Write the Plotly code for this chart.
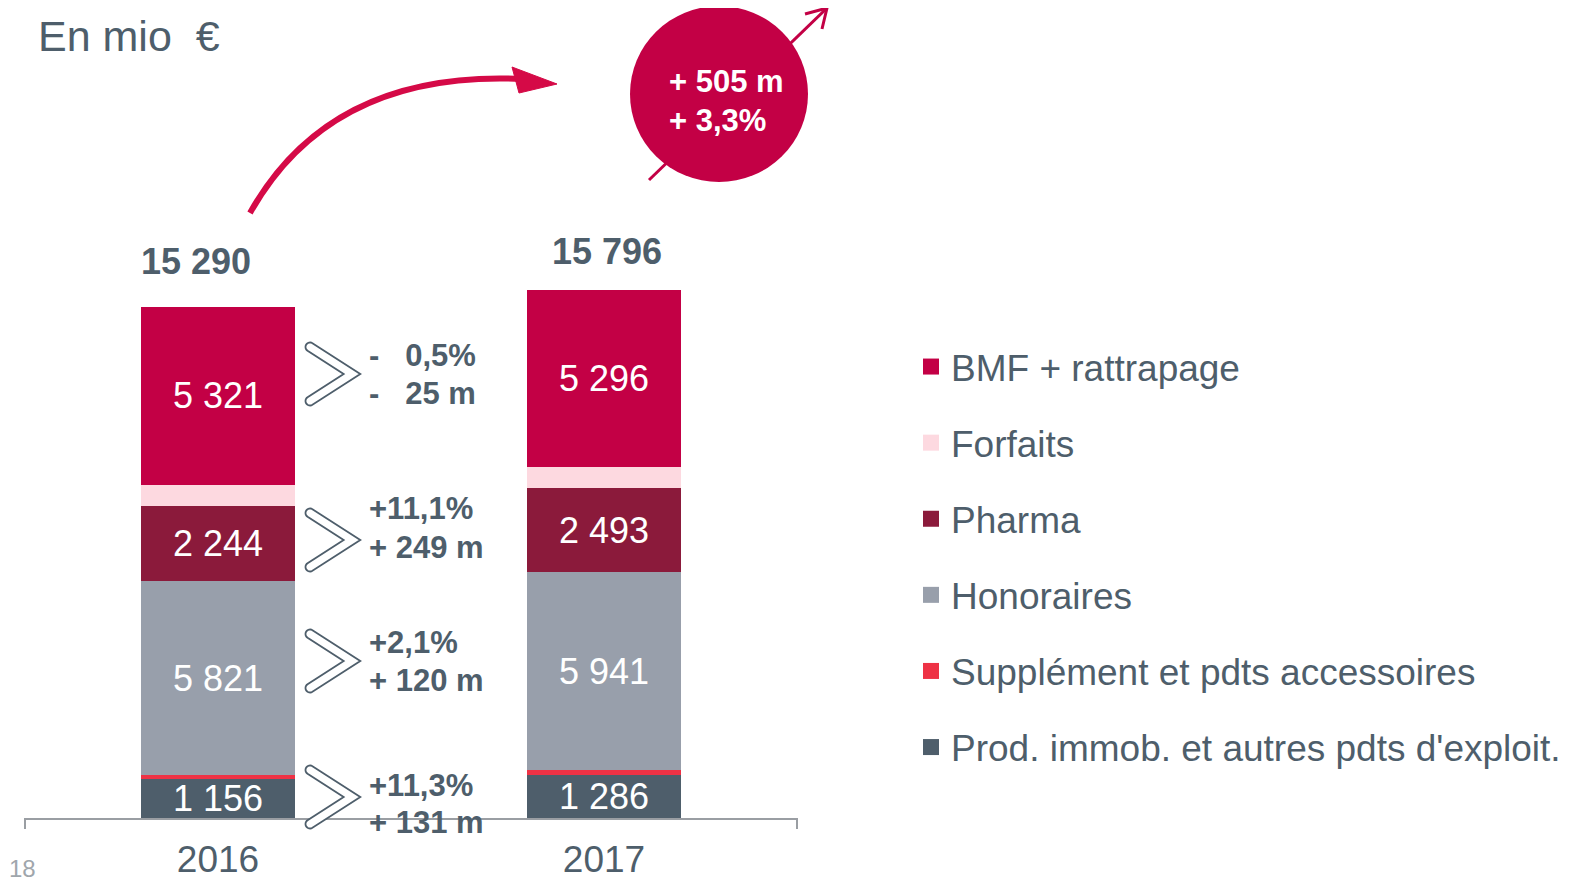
import math
import plotly.graph_objects as go

# ---------------- data ----------------
years = ["2016", "2017"]
series_names = ["Prod. immob. et autres pdts d'exploit.", "Supplément et pdts accessoires",
                "Honoraires", "Pharma", "Forfaits", "BMF + rattrapage"]
prod_immob = [1156, 1286]
supplement = [120, 140]
honoraires = [5821, 5941]
pharma = [2244, 2493]
forfaits = [628, 640]
bmf = [5321, 5296]
series_values = [prod_immob, supplement, honoraires, pharma, forfaits, bmf]
series_colors = ["#4E5E6B", "#EE3245", "#989FAB", "#8B1A3B", "#FDD9E0", "#C30045"]
show_label = [True, False, True, True, False, True]

# evolution 2016 -> 2017 (BMF, Pharma, Honoraires, Prod. immob.)
change_pct = ["-\u00a0\u00a0\u00a00,5%", "+11,1%", "+2,1%", "+11,3%"]
change_abs = ["-\u00a0\u00a0\u00a025 m", "+ 249 m", "+ 120 m", "+ 131 m"]
total_change = ["+ 505 m", "+ 3,3%"]

SLATE = "#4E5E6B"
FONT = "Liberation Sans, Arial, sans-serif"

OFF = 8                      # page body offset
W, H = 1570 - OFF, 882 - OFF
PL, PR, PB = 25, 797, 818    # plot area (page pixels)
UNIT_PER_PX = 29.92
L, R, B = PL - OFF, PR - OFF, PB - OFF


def fmt(v):
    return f"{v:,}".replace(",", " ")


def px(x):
    return (x - OFF - L) / (R - L)


def py(y):
    return (B - (y - OFF)) / B


fig = go.Figure()
for name, vals, col, lab in zip(series_names, series_values, series_colors, show_label):
    fig.add_trace(go.Bar(
        x=years, y=vals, name=name, marker=dict(color=col, line=dict(width=0)),
        width=0.4, showlegend=False,
        text=[fmt(v) for v in vals] if lab else None,
        textposition="inside" if lab else "none",
        insidetextanchor="middle", textangle=0, constraintext="none",
        textfont=dict(color="white", size=36, family=FONT),
        hoverinfo="skip",
    ))

# legend entries (top to bottom)
for name, col in zip(reversed(series_names), reversed(series_colors)):
    fig.add_trace(go.Scatter(
        x=[years[0]], y=[None], mode="markers", name=name, legendgroup=name,
        marker=dict(symbol="square", size=18, color=col), showlegend=True,
    ))

totals = [sum(s[i] for s in series_values) for i in range(len(years))]

annotations = []
# totals above bars
for i, tot in enumerate(totals):
    annotations.append(dict(x=i, y=tot, xref="x", yref="y", text=f"<b>{fmt(tot)}</b>",
                            showarrow=False, yanchor="middle", yshift=[45, 39][i],
                            xshift=[-22, 3][i],
                            font=dict(size=36, color=SLATE, family=FONT)))

# change labels next to 2016 bar
line_y = [(355, 393), (509, 547), (642, 680), (785, 822)]
for pct, ab, (y1, y2) in zip(change_pct, change_abs, line_y):
    for txt, yy in ((pct, y1), (ab, y2)):
        annotations.append(dict(x=px(367), y=py(yy), xref="paper", yref="paper",
                                text=f"<b>{txt}</b>", showarrow=False,
                                xanchor="left", yanchor="middle",
                                font=dict(size=31, color=SLATE, family=FONT)))

for txt, yy in zip(total_change, (82, 120)):
    annotations.append(dict(x=px(667), y=py(yy), xref="paper", yref="paper",
                            text=f"<b>{txt}</b>", showarrow=False,
                            xanchor="left", yanchor="middle",
                            font=dict(size=31, color="white", family=FONT)))
annotations.append(dict(x=px(36), y=py(36), xref="paper", yref="paper", text="En mio  €",
                        showarrow=False, xanchor="left", yanchor="middle",
                        font=dict(size=43, color=SLATE, family=FONT)))
annotations.append(dict(x=px(7), y=py(869), xref="paper", yref="paper", text="18",
                        showarrow=False, xanchor="left", yanchor="middle",
                        font=dict(size=24, color="#A0A6AC", family=FONT)))

shapes = []


def path_from(points, close=True):
    s = "M " + " L ".join(f"{px(x):.5f},{py(y):.5f}" for x, y in points)
    return s + (" Z" if close else "")


def chevron(x0, ymid, h=66, t=9):
    A = (x0 + 6, ymid - h / 2 + 6)
    Bp = (x0 + 6, ymid + h / 2 - 6)
    Tp = (x0 + 48, ymid)
    dx, dy = A[0] - Tp[0], A[1] - Tp[1]
    ln = math.hypot(dx, dy)
    a, b = -dx / ln, -dy / ln
    u = (-a, -b)
    n_top = (b, -a)
    ub = (-a, b)
    n_b = (b, a)
    h2 = t / 2
    O = (Tp[0] + h2 / b, ymid)
    I = (Tp[0] - h2 / b, ymid)
    A_up = (A[0] + n_top[0] * h2, A[1] + n_top[1] * h2)
    A_low = (A[0] - n_top[0] * h2, A[1] - n_top[1] * h2)
    B_down = (Bp[0] + n_b[0] * h2, Bp[1] + n_b[1] * h2)
    B_up = (Bp[0] - n_b[0] * h2, Bp[1] - n_b[1] * h2)
    pts = [A_up, O, B_down]
    for k in range(1, 12):
        s = math.pi * k / 12
        pts.append((Bp[0] + h2 * (math.cos(s) * n_b[0] + math.sin(s) * ub[0]),
                    Bp[1] + h2 * (math.cos(s) * n_b[1] + math.sin(s) * ub[1])))
    pts += [B_up, I, A_low]
    for k in range(1, 12):
        s = math.pi * k / 12
        pts.append((A[0] + h2 * (-math.cos(s) * n_top[0] + math.sin(s) * u[0]),
                    A[1] + h2 * (-math.cos(s) * n_top[1] + math.sin(s) * u[1])))
    return path_from(pts)


for ym in [374, 540, 661, 797]:
    shapes.append(dict(type="path", xref="paper", yref="paper", path=chevron(304, ym),
                       line=dict(color=SLATE, width=1.8), fillcolor="white", layer="above"))

# axis end ticks
for xe in [PL, PR]:
    shapes.append(dict(type="line", xref="paper", yref="paper", x0=px(xe), x1=px(xe),
                       y0=py(818), y1=py(829), line=dict(color="#9A9EA3", width=2)))

# curved arrow
p0, c, p2 = (250, 213), (330, 70), (522, 79)
shapes.append(dict(type="path", xref="paper", yref="paper",
                   path=f"M {px(p0[0])},{py(p0[1])} Q {px(c[0])},{py(c[1])} {px(p2[0])},{py(p2[1])}",
                   line=dict(color="#D50A47", width=6)))
shapes.append(dict(type="path", xref="paper", yref="paper",
                   path=path_from([(557, 84), (512, 67), (519, 93)]),
                   line=dict(color="#D50A47", width=1), fillcolor="#D50A47"))

# growth arrow through circle
shapes.append(dict(type="line", xref="paper", yref="paper", x0=px(649), y0=py(180),
                   x1=px(826), y1=py(9), line=dict(color="#C30045", width=3)))
shapes.append(dict(type="path", xref="paper", yref="paper",
                   path=path_from([(805, 14), (827, 8), (822, 29)], close=False),
                   line=dict(color="#C30045", width=3)))
shapes.append(dict(type="circle", xref="paper", yref="paper", x0=px(630), x1=px(808),
                   y0=py(182), y1=py(6), fillcolor="#C30045", line=dict(width=0)))

fig.update_layout(
    width=W, height=H, barmode="stack", bargap=0.6,
    margin=dict(l=L, r=W - R, t=0, b=H - B, pad=0),
    paper_bgcolor="white", plot_bgcolor="white",
    font=dict(family=FONT, color=SLATE),
    xaxis=dict(type="category", showline=True, linecolor="#9A9EA3", linewidth=2, showgrid=False,
               ticks="", tickfont=dict(size=37, color=SLATE, family=FONT),
               ticklabelstandoff=8, fixedrange=True, automargin=False,
               range=[-0.5, 1.5], zeroline=False),
    yaxis=dict(visible=False, range=[0, B * UNIT_PER_PX], fixedrange=True, automargin=False),
    legend=dict(x=px(911), xanchor="left", y=py(336), yanchor="top",
                font=dict(size=37, color=SLATE, family=FONT),
                traceorder="grouped", tracegroupgap=25, itemsizing="trace",
                bgcolor="rgba(0,0,0,0)"),
    uniformtext=dict(minsize=36, mode="show"),
    annotations=annotations, shapes=shapes,
)

fig.write_html("out.html")
